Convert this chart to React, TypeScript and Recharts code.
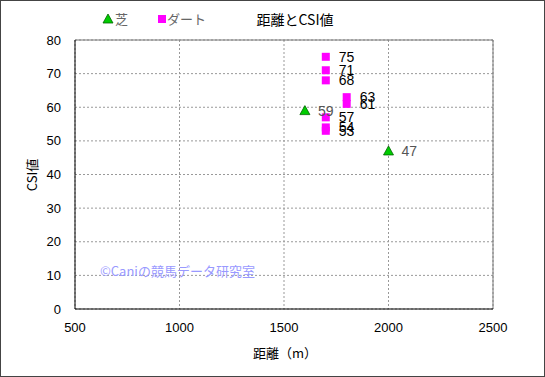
import React from 'react';
import { ScatterChart, Scatter, XAxis, YAxis, CartesianGrid, LabelList, ReferenceLine } from 'recharts';

// 芝 (turf) and ダート (dirt): distance vs CSI
const turfDistance = [1600, 2000];
const turfCsi = [59, 47];
const dirtDistance = [1700, 1700, 1700, 1800, 1800, 1700, 1700, 1700];
const dirtCsi = [75, 71, 68, 63, 61, 57, 54, 53];
const xTicks = [500, 1000, 1500, 2000, 2500];
const yTicks = [0, 10, 20, 30, 40, 50, 60, 70, 80];

const turfData = turfDistance.map((d, i) => ({ x: d, y: turfCsi[i] }));
const dirtData = dirtDistance.map((d, i) => ({ x: d, y: dirtCsi[i] }));

const FONT = '"Liberation Sans", Arial, "Noto Sans CJK JP", sans-serif';
const JP_FONT = '"Noto Sans CJK JP", "Liberation Sans", sans-serif';

const Triangle = (props: any) => {
  const { cx, cy } = props;
  return (
    <polygon
      points={`${cx},${cy - 5} ${cx - 5},${cy + 4} ${cx + 5},${cy + 4}`}
      fill="#00cc00"
      stroke="#006600"
      strokeWidth={0.8}
    />
  );
};

const Square = (props: any) => {
  const { cx, cy } = props;
  return <rect x={cx - 4} y={cy - 4} width={8} height={8} fill="#ff00ff" />;
};

const makeLabel = (color: string) => (props: any) => {
  const { x, y, width, height, value } = props;
  const cx = x + width / 2;
  const cy = y + height / 2;
  return (
    <text x={cx + 13} y={cy + 5} fill={color} fontSize={14} fontFamily={FONT}>
      {value}
    </text>
  );
};

const App: React.FC = () => {
  return (
    <div
      style={{
        position: 'absolute',
        left: 0,
        top: 0,
        width: 545,
        height: 377,
        boxSizing: 'border-box',
        border: '1px solid #444',
        background: '#fff',
        fontFamily: FONT,
      }}
    >
      <div style={{ position: 'absolute', left: -1, top: -1 }}>
        <ScatterChart width={545} height={377} margin={{ top: 40, right: 52, bottom: 38, left: 20 }}>
          <CartesianGrid stroke="#999" strokeDasharray="2 2" />
          <XAxis
            type="number"
            dataKey="x"
            domain={[500, 2500]}
            ticks={xTicks}
            height={30}
            tickLine={false}
            axisLine={{ stroke: '#000' }}
            tick={{ fill: '#000', fontSize: 13, fontFamily: FONT }}
            tickMargin={8}
          />
          <YAxis
            type="number"
            dataKey="y"
            domain={[0, 80]}
            ticks={yTicks}
            width={55}
            tickLine={false}
            axisLine={{ stroke: '#000' }}
            tick={{ fill: '#000', fontSize: 13, fontFamily: FONT }}
            tickMargin={8}
          />
          <ReferenceLine y={80} stroke="#777" />
          <ReferenceLine x={2500} stroke="#777" />
          <Scatter data={turfData} shape={Triangle} isAnimationActive={false}>
            <LabelList dataKey="y" content={makeLabel('#555')} />
          </Scatter>
          <Scatter data={dirtData} shape={Square} isAnimationActive={false}>
            <LabelList dataKey="y" content={makeLabel('#000')} />
          </Scatter>
          <text x={100} y={276} fill="#9999ff" fontSize={13} fontFamily={JP_FONT}>
            ©Caniの競馬データ研究室
          </text>
          <text x={285} y={358} textAnchor="middle" fill="#000" fontSize={13} fontFamily={JP_FONT}>
            距離（m）
          </text>
          <text
            x={37}
            y={175}
            textAnchor="middle"
            transform="rotate(-90 37 175)"
            fill="#000"
            fontSize={13}
            fontFamily={JP_FONT}
          >
            CSI値
          </text>
          <text x={295} y={25} textAnchor="middle" fill="#000" fontSize={14} fontFamily={JP_FONT}>
            距離とCSI値
          </text>
          <polygon points="108,14 103,23 113,23" fill="#00cc00" stroke="#006600" strokeWidth={0.8} />
          <text x={115} y={24} fill="#666" fontSize={13} fontFamily={JP_FONT}>芝</text>
          <rect x={158} y={15} width={8} height={8} fill="#ff00ff" />
          <text x={167} y={24} fill="#666" fontSize={13} fontFamily={JP_FONT}>ダート</text>
        </ScatterChart>
      </div>
    </div>
  );
};

export default App;
